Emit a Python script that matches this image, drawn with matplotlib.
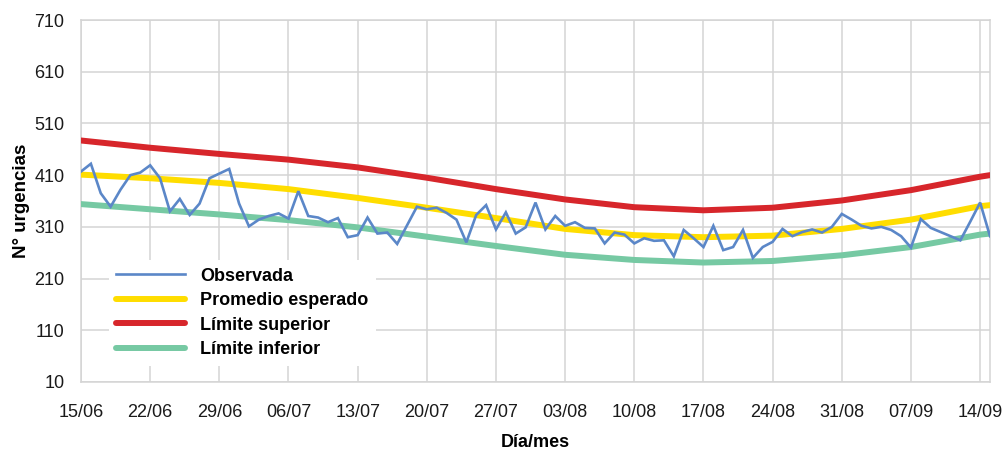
import matplotlib
matplotlib.use("Agg")
import matplotlib.pyplot as plt

plt.rcParams['font.family'] = ['Liberation Sans', 'DejaVu Sans']

# daily observed emergencies, 15/06 .. 15/09 (day index 0..92)
observada = [417, 432, 375, 349, 382, 410, 415, 429, 404, 340,
             364, 333, 355, 404, 413, 422, 355, 311, 324, 331,
             336, 326, 379, 331, 328, 319, 327, 290, 294, 328,
             297, 299, 277, 313, 349, 344, 347, 337, 324, 280,
             333, 352, 305, 338, 297, 309, 357, 305, 331, 312,
             319, 308, 307, 278, 299, 295, 278, 288, 283, 284,
             253, 304, 288, 271, 312, 265, 271, 304, 250, 271,
             281, 306, 292, 300, 305, 299, 310, 335, 324, 312,
             307, 310, 304, 292, 270, 325, 308, 300, 292, 284,
             320, 357, 292]

# expected band
dias_banda = [0, 7, 14, 21, 28, 35, 42, 49, 56, 63, 70, 77, 84, 91, 92]
promedio = [411, 404, 395, 383, 366, 347, 327, 306, 294, 290, 293, 306, 324, 350, 352]
lim_sup = [477, 463, 451, 440, 425, 405, 383, 363, 348, 342, 347, 361, 381, 407, 410]
lim_inf = [354, 344, 334, 323, 309, 291, 273, 256, 246, 241, 244, 255, 271, 295, 297]

tick_dias = [0, 7, 14, 21, 28, 35, 42, 49, 56, 63, 70, 77, 84, 91]
tick_labels = ['15/06', '22/06', '29/06', '06/07', '13/07', '20/07', '27/07',
               '03/08', '10/08', '17/08', '24/08', '31/08', '07/09', '14/09']
y_ticks = [10, 110, 210, 310, 410, 510, 610, 710]

grid_c = '#D4D4D4'

fig = plt.figure(figsize=(10.08, 4.51), dpi=100)
ax = fig.add_axes([81 / 1008, 1 - 382 / 451, 909 / 1008, 362 / 451])

dias = list(range(len(observada)))
l_prom, = ax.plot(dias_banda, promedio, color='#FFDD00', lw=4.3,
                  solid_capstyle='round', zorder=3, label='Promedio esperado')
l_sup, = ax.plot(dias_banda, lim_sup, color='#D7262B', lw=4.3,
                 solid_capstyle='round', zorder=3, label='Límite superior')
l_inf, = ax.plot(dias_banda, lim_inf, color='#76C9A3', lw=4.3,
                 solid_capstyle='round', zorder=3, label='Límite inferior')
l_obs, = ax.plot(dias, observada, color='#5B87C8', lw=1.9,
                 solid_joinstyle='miter', zorder=4, label='Observada')

ax.set_xlim(0, 92)
ax.set_ylim(10, 710)
ax.set_xticks(tick_dias)
ax.set_xticklabels(tick_labels)
ax.set_yticks(y_ticks)
ax.tick_params(length=0, labelsize=13, colors='#1a1a1a')
ax.tick_params(axis='x', pad=16)
ax.tick_params(axis='y', pad=12)
ax.grid(True, color=grid_c, lw=1.1, zorder=0)
ax.set_axisbelow(True)
for s in ax.spines.values():
    s.set_color(grid_c)
    s.set_linewidth(1.1)

ax.set_ylabel('N° urgencias', fontsize=13.5, fontweight='bold', labelpad=3)
ax.set_xlabel('Día/mes', fontsize=13, fontweight='bold', labelpad=9)

leg = ax.legend(handles=[l_obs, l_prom, l_sup, l_inf], loc='upper left',
                bbox_to_anchor=(0.031, 0.336), borderaxespad=0,
                prop={'size': 13, 'weight': 'bold'}, handlelength=3.8,
                handletextpad=0.85, labelspacing=0.42, borderpad=0.4,
                frameon=True, fancybox=False)
leg.get_frame().set_facecolor('white')
leg.get_frame().set_edgecolor('none')
leg.get_frame().set_alpha(1)

fig.savefig('out.png', dpi=100)
